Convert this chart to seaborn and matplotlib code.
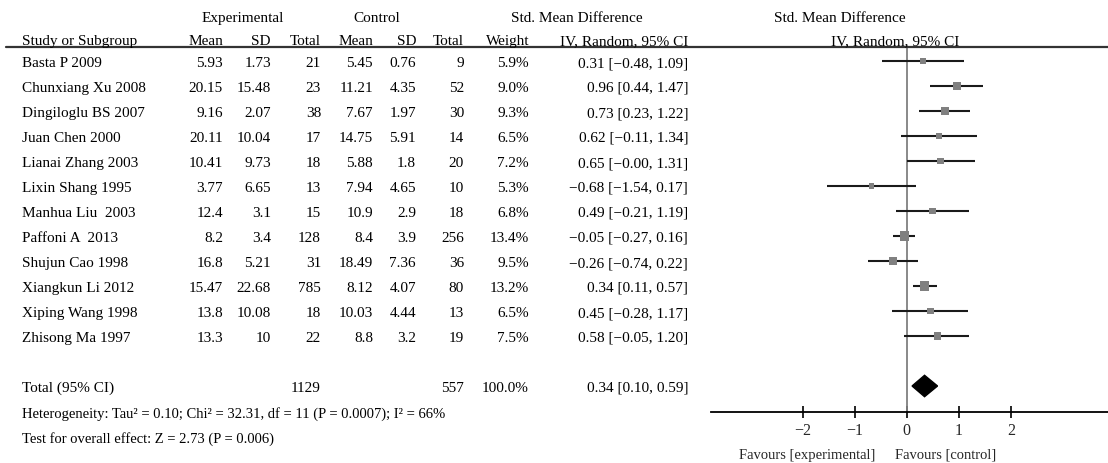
import matplotlib
matplotlib.use("Agg")
import matplotlib.pyplot as plt
import matplotlib.transforms as mtransforms
import seaborn as sns
import pandas as pd

studies = ["Basta P 2009", "Chunxiang Xu 2008", "Dingiloglu BS 2007", "Juan Chen 2000",
           "Lianai Zhang 2003", "Lixin Shang 1995", "Manhua Liu  2003", "Paffoni A  2013",
           "Shujun Cao 1998", "Xiangkun Li 2012", "Xiping Wang 1998", "Zhisong Ma 1997"]
exp_mean = ["5.93", "20.15", "9.16", "20.11", "10.41", "3.77", "12.4", "8.2", "16.8", "15.47", "13.8", "13.3"]
exp_sd = ["1.73", "15.48", "2.07", "10.04", "9.73", "6.65", "3.1", "3.4", "5.21", "22.68", "10.08", "10"]
exp_total = [21, 23, 38, 17, 18, 13, 15, 128, 31, 785, 18, 22]
ctrl_mean = ["5.45", "11.21", "7.67", "14.75", "5.88", "7.94", "10.9", "8.4", "18.49", "8.12", "10.03", "8.8"]
ctrl_sd = ["0.76", "4.35", "1.97", "5.91", "1.8", "4.65", "2.9", "3.9", "7.36", "4.07", "4.44", "3.2"]
ctrl_total = [9, 52, 30, 14, 20, 10, 18, 256, 36, 80, 13, 19]
weight = [5.9, 9.0, 9.3, 6.5, 7.2, 5.3, 6.8, 13.4, 9.5, 13.2, 6.5, 7.5]
smd = [0.31, 0.96, 0.73, 0.62, 0.65, -0.68, 0.49, -0.05, -0.26, 0.34, 0.45, 0.58]
lower = [-0.48, 0.44, 0.23, -0.11, -0.00, -1.54, -0.21, -0.27, -0.74, 0.11, -0.28, -0.05]
upper = [1.09, 1.47, 1.22, 1.34, 1.31, 0.17, 1.19, 0.16, 0.22, 0.57, 1.17, 1.20]

total_smd, total_lo, total_hi = 0.34, 0.10, 0.59
total_exp, total_ctrl = 1129, 557
xticks = [-2, -1, 0, 1, 2]

df = pd.DataFrame({"study": studies, "smd": smd, "lower": lower, "upper": upper,
                   "weight": weight, "row": range(len(studies))})

sns.set_theme(style="white")
plt.rcParams["font.family"] = ["Liberation Serif", "DejaVu Serif"]

W, H = 1108, 464
fig = plt.figure(figsize=(W / 100, H / 100), dpi=100)
# forest axes: zero at x=907px, 52px per unit, rows 25px apart starting at y=62px
ax = fig.add_axes([710.7 / W, (H - 412.7) / H, (W - 710.7) / W, (412.7 - 48) / H])
ax.set_xlim(-196 / 52, 201 / 52)
ax.set_ylim((412.7 - 62) / 25, (48 - 62) / 25)
ax.patch.set_alpha(0)

def m(v):
    return f"{v:.2f}".replace("-", "\u2212")

fs = 11
blend = mtransforms.blended_transform_factory(fig.transFigure, ax.transData)

def put(px, row, s, ha="right", size=fs):
    ax.text(px / W, row, s, transform=blend, ha=ha, va="center_baseline", fontsize=size,
            color="black", clip_on=False)

# header
h1, h2 = (17 - 62) / 25, (40 - 62) / 25
put(243, h1, "Experimental", ha="center")
put(377, h1, "Control", ha="center")
put(577, h1, "Std. Mean Difference", ha="center")
put(840, h1, "Std. Mean Difference", ha="center")
put(22, h2, "Study or Subgroup", ha="left")
cols = [223, 271, 321, 373, 416, 464, 529]
for px, s in zip(cols, ["Mean", "SD", "Total", "Mean", "SD", "Total", "Weight"]):
    put(px, h2, s)
put(688, h2, "IV, Random, 95% CI")
put(895, h2, "IV, Random, 95% CI", ha="center")
ax.plot([6 / W, 1], [(48 - 62) / 25] * 2, transform=blend, color="#333333", lw=1.6,
        clip_on=False)

# study rows
for i, r in df.iterrows():
    put(22, i, r["study"], ha="left")
    vals = [exp_mean[i], exp_sd[i], str(exp_total[i]), ctrl_mean[i], ctrl_sd[i],
            str(ctrl_total[i]), f"{weight[i]:.1f}%"]
    for px, s in zip(cols, vals):
        put(px, i, s)
    put(688, i, f"{m(smd[i])} [{m(lower[i])}, {m(upper[i])}]")

trow = len(studies) + 1
put(22, trow, "Total (95% CI)", ha="left")
put(cols[2], trow, str(total_exp))
put(cols[5], trow, str(total_ctrl))
put(cols[6], trow, "100.0%")
put(688, trow, f"{m(total_smd)} [{m(total_lo)}, {m(total_hi)}]")
put(22, trow + 1, "Heterogeneity: Tau\u00b2 = 0.10; Chi\u00b2 = 32.31, df = 11 (P = 0.0007); I\u00b2 = 66%",
    ha="left", size=10.5)
put(22, trow + 2, "Test for overall effect: Z = 2.73 (P = 0.006)", ha="left", size=10.5)

# forest marks
ax.axvline(0, color="#808080", lw=1.3, zorder=1)
ax.hlines(df["row"], df["lower"], df["upper"], color="#1a1a1a", lw=1.5, zorder=2)
sns.scatterplot(data=df, x="smd", y="row", size="weight", sizes=(3.4 * 5.3, 3.4 * 13.4),
                marker="s", color="#808080", linewidth=0, legend=False, ax=ax, zorder=3)
dh = 10.7 / 25
ax.fill([total_lo, total_smd, total_hi, total_smd],
        [trow, trow - dh, trow, trow + dh], color="black", zorder=3)

ax.set_xlabel("")
ax.set_ylabel("")
ax.set_yticks([])
ax.set_xticks(xticks)
ax.set_xticklabels([str(t).replace("-", "\u2212") for t in xticks], fontsize=11.5)
ax.tick_params(axis="x", direction="inout", length=9, width=1.2, color="black", pad=3,
               bottom=True)
for side in ["top", "left", "right"]:
    ax.spines[side].set_visible(False)
ax.spines["bottom"].set_color("black")
ax.spines["bottom"].set_linewidth(1.3)

fav_row = (454 - 62) / 25
ax.text(-0.61, fav_row, "Favours [experimental]", ha="right", va="center_baseline", fontsize=10.5, clip_on=False)
ax.text(-0.23, fav_row, "Favours [control]", ha="left", va="center_baseline", fontsize=10.5, clip_on=False)

fig.savefig("out.png", dpi=100)
